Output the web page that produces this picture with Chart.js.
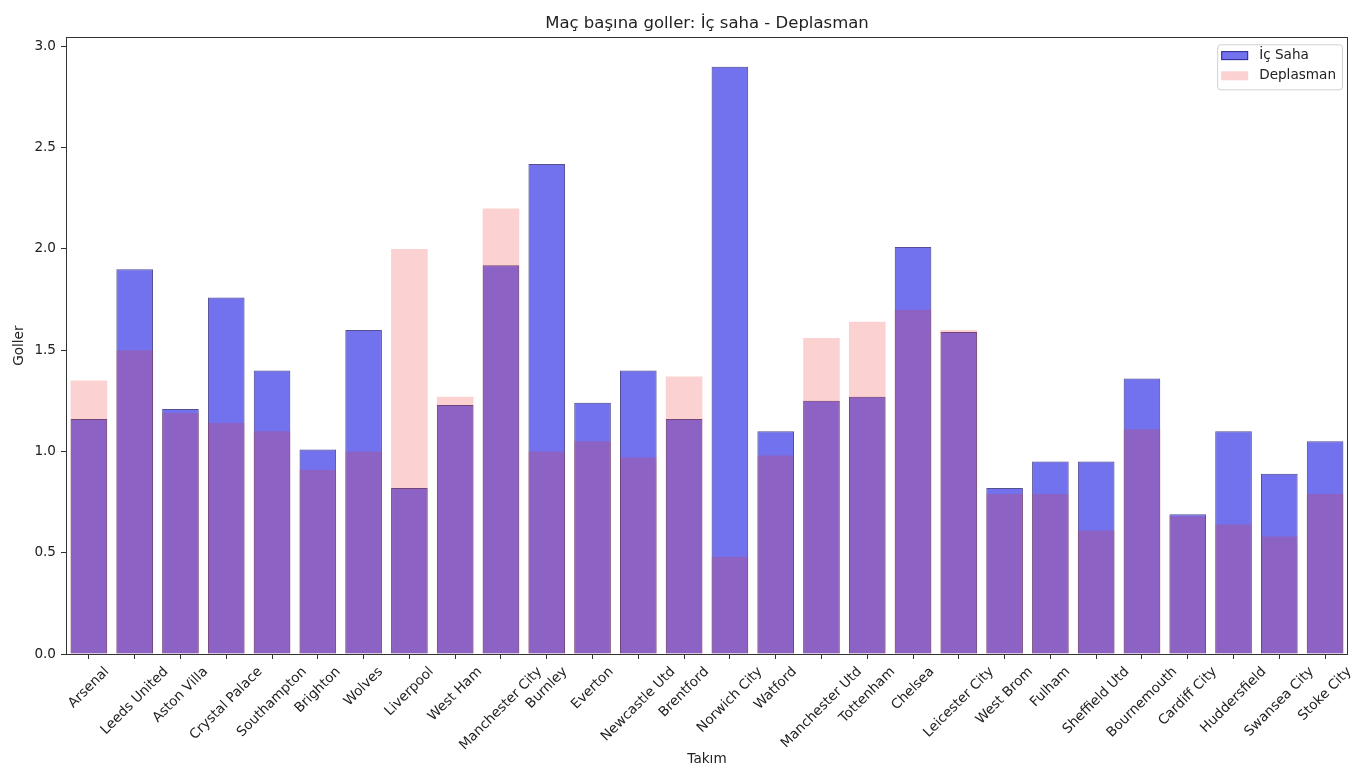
<!DOCTYPE html>
<html>
<head>
<meta charset="utf-8">
<script src="https://cdn.jsdelivr.net/npm/chart.js@4.4.1/dist/chart.umd.min.js"></script>
<style>
  html, body { margin: 0; padding: 0; background: #ffffff; }
  #wrap { width: 1372px; height: 784px; position: relative; }
</style>
</head>
<body>
<div id="wrap"><canvas id="c"></canvas></div>
<script>
// ---- data ----
const teams = ['Arsenal', 'Leeds United', 'Aston Villa', 'Crystal Palace', 'Southampton', 'Brighton', 'Wolves',
  'Liverpool', 'West Ham', 'Manchester City', 'Burnley', 'Everton', 'Newcastle Utd', 'Brentford', 'Norwich City',
  'Watford', 'Manchester Utd', 'Tottenham', 'Chelsea', 'Leicester City', 'West Brom', 'Fulham', 'Sheffield Utd',
  'Bournemouth', 'Cardiff City', 'Huddersfield', 'Swansea City', 'Stoke City'];
const homeGoals = [1.16, 1.90, 1.21, 1.76, 1.40, 1.01, 1.60, 0.82, 1.23, 1.92, 2.42, 1.24, 1.40, 1.16, 2.90,
  1.10, 1.25, 1.27, 2.01, 1.59, 0.82, 0.95, 0.95, 1.36, 0.69, 1.10, 0.89, 1.05];
const awayGoals = [1.35, 1.50, 1.19, 1.14, 1.10, 0.91, 1.00, 2.00, 1.27, 2.20, 1.00, 1.05, 0.97, 1.37, 0.48,
  0.98, 1.56, 1.64, 1.70, 1.60, 0.79, 0.79, 0.61, 1.11, 0.68, 0.64, 0.58, 0.79];
const seriesNames = ['İç Saha', 'Deplasman'];
const yTicks = [0.0, 0.5, 1.0, 1.5, 2.0, 2.5, 3.0];
const yMax = 3.045;
const titleText = 'Maç başına goller: İç saha - Deplasman';
const xTitle = 'Takım';
const yTitle = 'Goller';

// ---- styles ----
const FONT = 'DejaVu Sans';
const FS = 13.6;
const homeFill = 'rgba(20,20,228,0.6)';
const homeEdge = 'rgba(25,20,110,0.75)';
const awayFill = 'rgba(238,40,40,0.21)';
const textColor = '#222222';
const spineColor = '#333333';
Chart.defaults.font.family = FONT;
Chart.defaults.color = textColor;

const frameAndLabels = {
  id: 'frameAndLabels',
  afterDatasetsDraw(chart) {
    const { ctx, chartArea: a } = chart;
    ctx.save();
    ctx.strokeStyle = spineColor;
    ctx.lineWidth = 1;
    ctx.strokeRect(Math.round(a.left) + 0.5, Math.round(a.top) + 0.5,
      Math.round(a.right - a.left) - 1, Math.round(a.bottom - a.top));
    ctx.restore();
  },
  afterDraw(chart) {
    const { ctx, chartArea: a, scales } = chart;
    const xs = scales.x;
    const f = FS;
    ctx.save();
    ctx.font = f + 'px "' + FONT + '"';
    ctx.fillStyle = textColor;
    ctx.textAlign = 'center';
    ctx.textBaseline = 'middle';
    const y0 = a.bottom + 10;
    const H = f * 1.17;
    teams.forEach((t, i) => {
      const L = ctx.measureText(t).width;
      const w = (L + H) * Math.SQRT1_2;
      const cx = xs.getPixelForTick(i);
      const cy = y0 + w / 2;
      ctx.save();
      ctx.translate(cx, cy);
      ctx.rotate(-Math.PI / 4);
      ctx.fillText(t, 0, 0);
      ctx.restore();
    });
    // legend inside top-right
    ctx.font = f + 'px "' + FONT + '"';
    const tw = Math.max(...seriesNames.map(s => ctx.measureText(s).width));
    const boxW = 42 + tw + 6, boxH = 45;
    const bx = a.right - 6 - boxW, by = a.top + 7;
    ctx.beginPath();
    if (ctx.roundRect) ctx.roundRect(bx + 0.5, by + 0.5, boxW, boxH, 3); else ctx.rect(bx + 0.5, by + 0.5, boxW, boxH);
    ctx.fillStyle = 'rgba(255,255,255,0.85)';
    ctx.fill();
    ctx.strokeStyle = '#d0d0d0';
    ctx.lineWidth = 1;
    ctx.stroke();
    const rows = [by + 11.3, by + 31.5];
    const fills = [homeFill, awayFill];
    rows.forEach((ry, k) => {
      ctx.fillStyle = fills[k];
      ctx.fillRect(bx + 4, ry - 4.5, 27, 9);
      if (k === 0) {
        ctx.strokeStyle = homeEdge;
        ctx.strokeRect(bx + 4.5, ry - 4, 26, 8);
      }
      ctx.fillStyle = textColor;
      ctx.textAlign = 'left';
      ctx.textBaseline = 'middle';
      ctx.fillText(seriesNames[k], bx + 42, ry);
    });
    ctx.restore();
  }
};

new Chart(document.getElementById('c'), {
  type: 'bar',
  data: {
    labels: teams,
    datasets: [
      { label: seriesNames[0], data: homeGoals, backgroundColor: homeFill, borderColor: homeEdge,
        borderWidth: 1, grouped: false, order: 1, barPercentage: 0.8, categoryPercentage: 1.0 },
      { label: seriesNames[1], data: awayGoals, backgroundColor: awayFill, borderWidth: 0,
        grouped: false, order: 0, barPercentage: 0.8, categoryPercentage: 1.0 }
    ]
  },
  options: {
    responsive: true,
    maintainAspectRatio: false,
    animation: false,
    layout: { padding: { left: 0, right: 24, top: 0, bottom: 0 } },
    plugins: {
      legend: { display: false },
      tooltip: { enabled: false },
      title: { display: true, text: titleText, color: textColor, fullSize: false,
        font: { size: 16.5, weight: 'normal', family: FONT }, padding: { top: 13.5, bottom: 4 } }
    },
    scales: {
      x: {
        offset: true,
        border: { display: false },
        grid: { display: true, drawOnChartArea: false, drawTicks: true, tickLength: 5, offset: false,
          tickColor: spineColor, tickWidth: 1 },
        ticks: { display: false },
        title: { display: true, text: xTitle, color: textColor, font: { size: FS, family: FONT },
          padding: { top: 0, bottom: 16 } },
        afterFit(s) { s.height = 130; }
      },
      y: {
        min: 0, max: yMax,
        border: { display: false },
        grid: { display: true, drawOnChartArea: false, drawTicks: true, tickLength: 5,
          tickColor: spineColor, tickWidth: 1 },
        ticks: { color: textColor, font: { size: FS, family: FONT }, padding: 5,
          callback: v => Number(v).toFixed(1) },
        afterBuildTicks(s) { s.ticks = yTicks.map(v => ({ value: v })); },
        title: { display: true, text: yTitle, color: textColor, font: { size: FS, family: FONT },
          padding: { top: 11, bottom: 0 } },
        afterFit(s) { s.width = 66; }
      }
    }
  },
  plugins: [frameAndLabels]
});
</script>
</body>
</html>
